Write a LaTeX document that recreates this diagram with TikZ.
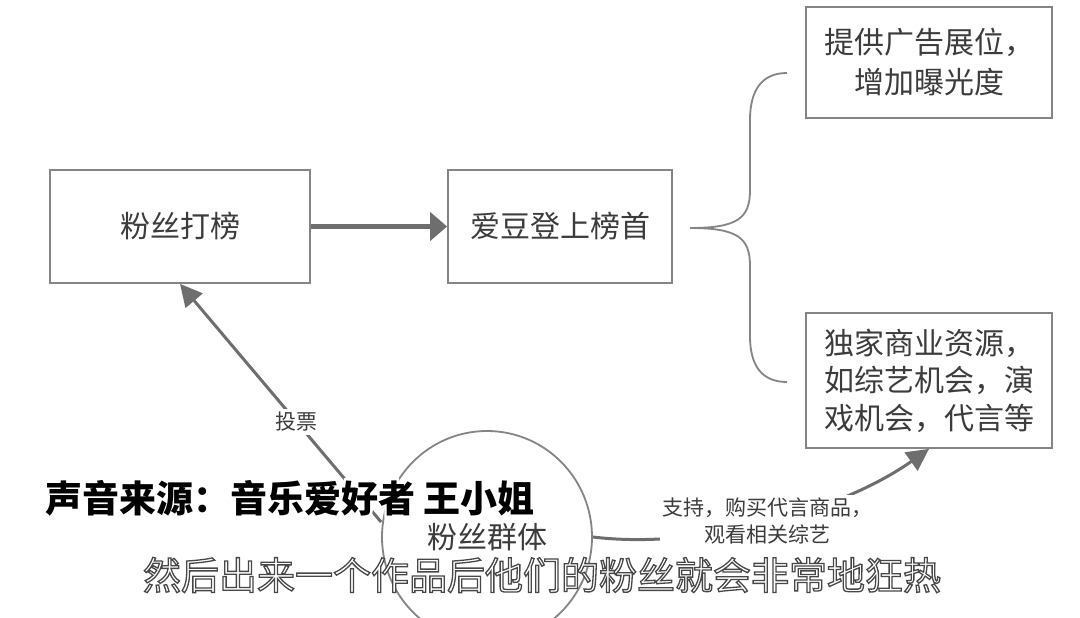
\documentclass[tikz,border=0pt]{standalone}
\usepackage{fontspec}
\newfontfamily\cjk{Noto Sans CJK SC}
\usetikzlibrary{arrows.meta,shapes.geometric}
\definecolor{boxgray}{HTML}{858585}
\definecolor{linegray}{HTML}{6E6E6E}
\definecolor{txtgray}{HTML}{3C3C3C}
\newcommand{\outlinetext}[3]{\special{pdf:code #1 Tr #2}#3\special{pdf:code 0 Tr}}
\begin{document}
\begin{tikzpicture}[x=1pt,y=-1pt,
  box/.style={draw=boxgray,line width=1.8pt,text=txtgray,inner sep=0pt,
    font=\cjk\fontsize{30}{38}\selectfont},
  conn/.style={draw=linegray,line width=3pt,-{Triangle[length=22pt,width=22pt]}},
  mainarrow/.style={draw=linegray,line width=4.5pt,-{Triangle[length=17pt,width=28pt]}},
  lbl/.style={fill=white,text=txtgray,align=center,inner sep=3pt,
    font=\cjk\fontsize{21}{27}\selectfont},
  grp/.style={ellipse,draw=boxgray,line width=1.8pt,text=txtgray,inner sep=0pt,
    minimum width=210pt,minimum height=212pt,font=\cjk\fontsize{30}{38}\selectfont},
  bracestyle/.style={draw=boxgray,line width=1.8pt},
  subone/.style={font=\cjk\bfseries\fontsize{37}{40}\selectfont,inner sep=0pt,anchor=west},
  subtwo/.style={font=\cjk\fontsize{38}{40}\selectfont,inner sep=0pt}
]
\useasboundingbox (0,0) rectangle (1080,618);
\clip (0,0) rectangle (1080,618);
\fill[white] (0,0) rectangle (1080,618);

% boxes
\node[box,minimum width=260pt,minimum height=113pt] (rank) at (180,226.5) {粉丝打榜};
\node[box,minimum width=224pt,minimum height=113pt] (top) at (560,226.5) {爱豆登上榜首};
\node[box,minimum width=246pt,minimum height=111pt,align=center,
  font=\cjk\fontsize{30}{40}\selectfont] (ads) at (929,62.5) {提供广告展位，\\增加曝光度};
\node[box,minimum width=246pt,minimum height=135pt,align=left,
  font=\cjk\fontsize{30}{37.5}\selectfont] (res) at (929,380.5) {独家商业资源，\\如综艺机会，演\\戏机会，代言等};

% fan group ellipse
\node[grp] (fans) at (487,537) {粉丝群体};

% main arrow
\draw[mainarrow] (rank.east) -- (top.west);

% brace
\coordinate (tip) at (690,228);
\coordinate (btop) at (787,73);
\coordinate (bbot) at (787,382);
\draw[bracestyle] (btop) .. controls (762,73) and (750,90) .. (750,120)
  -- (750,190) .. controls (750,218) and (738,228) .. (tip);
\draw[bracestyle] (tip) .. controls (738,228) and (750,238) .. (750,266)
  -- (750,336) .. controls (750,366) and (762,382) .. (bbot);

% vote arrow
\draw[conn] ([yshift=15pt]fans.west) -- node[lbl,pos=0.42] (vote) {投票} (rank.south);

% support arrow
\draw[conn] (fans.east) .. controls (700,550) and (840,512) .. node[lbl,pos=0.5] (support) {支持，购买代言商品，\\观看相关综艺} (res.south);

% subtitle 1: black text with white halo
\node[subone,text=white] (subhalo) at (45,498) {\outlinetext{1}{5 w 1 1 1 RG}{声音来源：音乐爱好者 王小姐}};
\node[subone,text=black] (subA) at (45,498) {声音来源：音乐爱好者 王小姐};

% subtitle 2: white text with dark outline
\node[subtwo,text=white] (subB) at (542,575) {\outlinetext{2}{1.3 w 0.28 0.28 0.28 RG}{然后出来一个作品后他们的粉丝就会非常地狂热}};
\end{tikzpicture}
\end{document}
